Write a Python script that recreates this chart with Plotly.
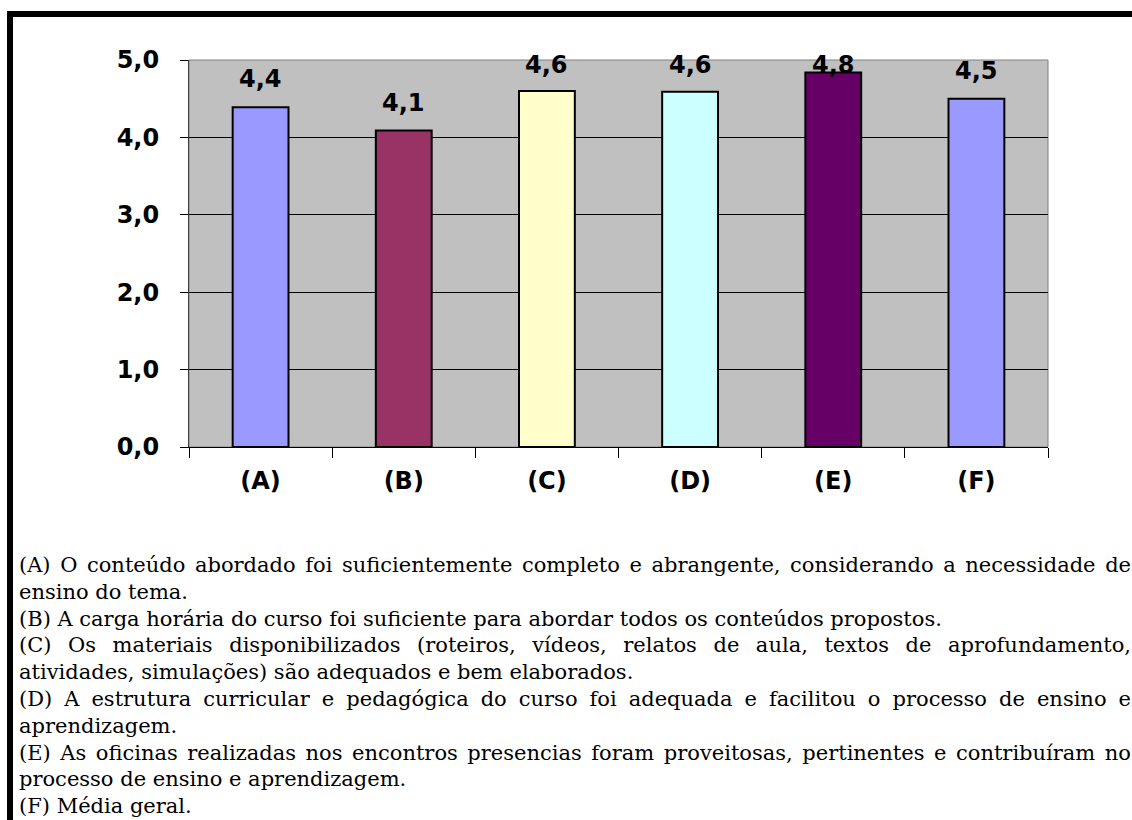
import plotly.graph_objects as go

# ---- data ----
categories = ["(A)", "(B)", "(C)", "(D)", "(E)", "(F)"]
values = [4.39, 4.09, 4.60, 4.59, 4.84, 4.50]
bar_colors = ["#9999FF", "#993366", "#FFFFCC", "#CCFFFF", "#660066", "#9999FF"]
y_ticks = [0, 1, 2, 3, 4, 5]

caption_lines = [
    "(A) O conteúdo abordado foi suficientemente completo e abrangente, considerando a necessidade de",
    "ensino do tema.",
    "(B) A carga horária do curso foi suficiente para abordar todos os conteúdos propostos.",
    "(C) Os materiais disponibilizados (roteiros, vídeos, relatos de aula, textos de aprofundamento,",
    "atividades, simulações) são adequados e bem elaborados.",
    "(D) A estrutura curricular e pedagógica do curso foi adequada e facilitou o processo de ensino e",
    "aprendizagem.",
    "(E) As oficinas realizadas nos encontros presencias foram proveitosas, pertinentes e contribuíram no",
    "processo de ensino e aprendizagem.",
    "(F) Média geral.",
]
justified = [True, False, False, True, False, True, False, True, False, False]

# ---- layout geometry (pixels) ----
W, H = 1132, 820
ML, MR, MT, MB = 189, 84, 60, 373
PW, PH = W - ML - MR, H - MT - MB


def px(x):
    return (x - ML) / PW


def py(y):
    return 1 - (y - MT) / PH


fig = go.Figure()
fig.add_trace(go.Bar(
    x=categories, y=values,
    marker=dict(color=bar_colors, line=dict(color="black", width=2)),
    hoverinfo="skip",
))

annotations = []
# bar value labels (capped near the top of plot area like the original)
for c, v in zip(categories, values):
    label = f"{v:.1f}".replace(".", ",")
    annotations.append(dict(
        x=c, y=min(v + 0.36, 4.935), xref="x", yref="y", text=label,
        showarrow=False, xanchor="center", yanchor="middle",
        font=dict(family="DejaVu Sans", size=24, color="black", weight="bold"),
    ))

justify_idx = []
for i, (line, j) in enumerate(zip(caption_lines, justified)):
    center = 565 + 26.8 * i
    if j:
        justify_idx.append(len(annotations))
    annotations.append(dict(
        x=px(17), y=py(center), xref="paper", yref="paper", text=line,
        showarrow=False, xanchor="left", yanchor="middle", align="left",
        font=dict(family="DejaVu Serif", size=21, color="black"),
    ))

shapes = [
    # plot-area frame (top/right)
    dict(type="rect", xref="paper", yref="paper", x0=0, x1=1, y0=0, y1=1,
         line=dict(color="#808080", width=1), layer="below"),
    # page border: left and top thick black lines
    dict(type="rect", xref="paper", yref="paper", x0=px(7), x1=px(13), y0=py(H + 5), y1=py(11),
         fillcolor="black", line=dict(width=0)),
    dict(type="rect", xref="paper", yref="paper", x0=px(7), x1=px(W + 5), y0=py(17), y1=py(11),
         fillcolor="black", line=dict(width=0)),
]

fig.update_layout(
    width=W, height=H,
    margin=dict(l=ML, r=MR, t=MT, b=MB, pad=0),
    paper_bgcolor="white", plot_bgcolor="#C0C0C0",
    separators=",.",
    bargap=0.61,
    showlegend=False,
    annotations=annotations,
    shapes=shapes,
    xaxis=dict(
        showline=True, linecolor="black", linewidth=1,
        ticks="outside", ticklen=10, tickcolor="black", tickson="boundaries",
        tickfont=dict(family="DejaVu Sans", size=24, color="black", weight="bold"),
        showgrid=False, ticklabelstandoff=12,
    ),
    yaxis=dict(
        range=[0, 5], tickvals=y_ticks, tickformat=".1f",
        showline=True, linecolor="#404040", linewidth=1,
        ticks="outside", ticklen=8, tickcolor="black",
        tickfont=dict(family="DejaVu Sans", size=24, color="black", weight="bold"),
        showgrid=True, gridcolor="black", gridwidth=1, zeroline=False,
        ticklabelstandoff=16,
    ),
)

js = """
document.body.style.margin = '0';
var gd = document.getElementById('{plot_id}');
var JIDX = %s;
var TARGET = %d;
function justifyLines() {
  JIDX.forEach(function(i) {
    var g = gd.querySelector('g.annotation[data-index="' + i + '"]');
    if (!g) return;
    var t = g.querySelector('text.annotation-text');
    if (!t) return;
    t.style.wordSpacing = '0px';
    var len = t.getComputedTextLength();
    var n = (t.textContent.match(/ /g) || []).length;
    if (n > 0) t.style.wordSpacing = ((TARGET - len) / n) + 'px';
  });
}
justifyLines();
gd.on('plotly_afterplot', justifyLines);
""" % (str(justify_idx), 1130 - 18)

fig.write_html("out.html", post_script=js, config={"displayModeBar": False})
